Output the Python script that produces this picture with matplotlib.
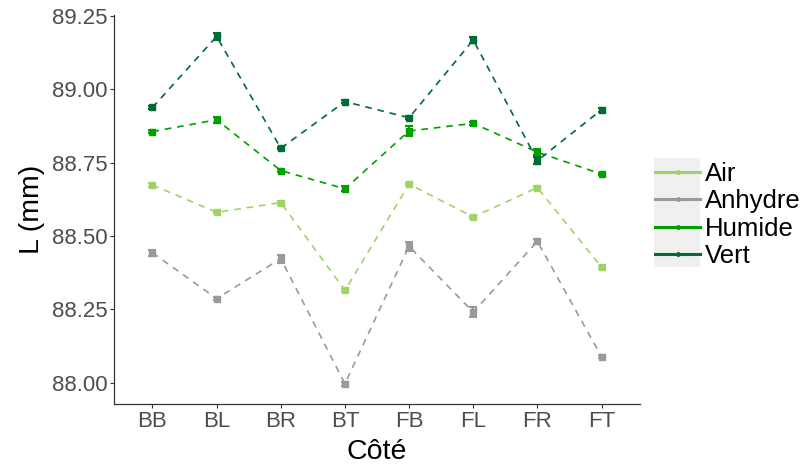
import matplotlib
matplotlib.use("Agg")
import matplotlib.pyplot as plt
import numpy as np
from matplotlib.lines import Line2D
from matplotlib.patches import Rectangle

plt.rcParams['font.family'] = ['Liberation Sans', 'DejaVu Sans']

cotes = ["BB", "BL", "BR", "BT", "FB", "FL", "FR", "FT"]
series = ["Air", "Anhydre", "Humide", "Vert"]

air = [88.674, 88.581, 88.614, 88.315, 88.677, 88.565, 88.665, 88.394]
air_err = [0.008, 0.004, 0.007, 0.005, 0.004, 0.005, 0.004, 0.005]
anhydre = [88.443, 88.287, 88.423, 87.997, 88.465, 88.241, 88.482, 88.089]
anhydre_err = [0.010, 0.005, 0.014, 0.006, 0.015, 0.016, 0.009, 0.006]
humide = [88.856, 88.896, 88.723, 88.661, 88.858, 88.884, 88.786, 88.711]
humide_err = [0.004, 0.010, 0.005, 0.008, 0.017, 0.005, 0.010, 0.004]
vert = [88.938, 89.180, 88.799, 88.958, 88.903, 89.168, 88.757, 88.930]
vert_err = [0.006, 0.011, 0.004, 0.004, 0.005, 0.011, 0.012, 0.006]

colors = ["#9fd36a", "#9a9a9a", "#00a000", "#006b35"]
values = [air, anhydre, humide, vert]
errors = [air_err, anhydre_err, humide_err, vert_err]

fig = plt.figure(figsize=(8.09, 4.67), dpi=100)
ax = fig.add_axes([114/809, 1-404/467, (640-114)/809, (404-15)/467])

x = np.arange(len(cotes))
for name, vals, errs, col in zip(series, values, errors, colors):
    ax.plot(x, vals, color=col, lw=1.2, linestyle=(0, (4, 3.5)))
    ax.errorbar(x, vals, yerr=errs, fmt='s', ms=4, color=col, ecolor=col,
                elinewidth=1.5, capsize=3, capthick=1.5)

ax.set_xlim(-0.6, 7.6)
ax.set_ylim(87.928, 89.253)
ax.set_xticks(x, cotes)
ax.set_yticks([88.00, 88.25, 88.50, 88.75, 89.00, 89.25],
              ["88.00", "88.25", "88.50", "88.75", "89.00", "89.25"])
ax.tick_params(labelsize=16, labelcolor="#4d4d4d", color="#333333",
               length=3, width=0.8, pad=2)
ax.tick_params(axis="y", pad=1.5)
for s in ["top", "right"]:
    ax.spines[s].set_visible(False)
for s in ["left", "bottom"]:
    ax.spines[s].set_color("#333333")
    ax.spines[s].set_linewidth(0.9)

ax.set_xlabel("Côté", fontsize=20.5, labelpad=5)
ax.set_ylabel("L (mm)", fontsize=20.5, labelpad=5)

# legend keys area
fig.patches.append(Rectangle((654/809, 1-267/467), 46/809, 109/467,
                             transform=fig.transFigure, facecolor="#f0f0f0",
                             edgecolor="none", zorder=0))
handles = [Line2D([0], [0], color=c, lw=2.2, marker='o', ms=2.5) for c in colors]
leg = fig.legend(handles, series, loc="center left",
                 bbox_to_anchor=(650/809, 1-215/467), frameon=False,
                 fontsize=18.5, handlelength=1.75, handletextpad=0.2,
                 labelspacing=0.12, borderpad=0.2, borderaxespad=0)

fig.savefig("out.png", dpi=100)
